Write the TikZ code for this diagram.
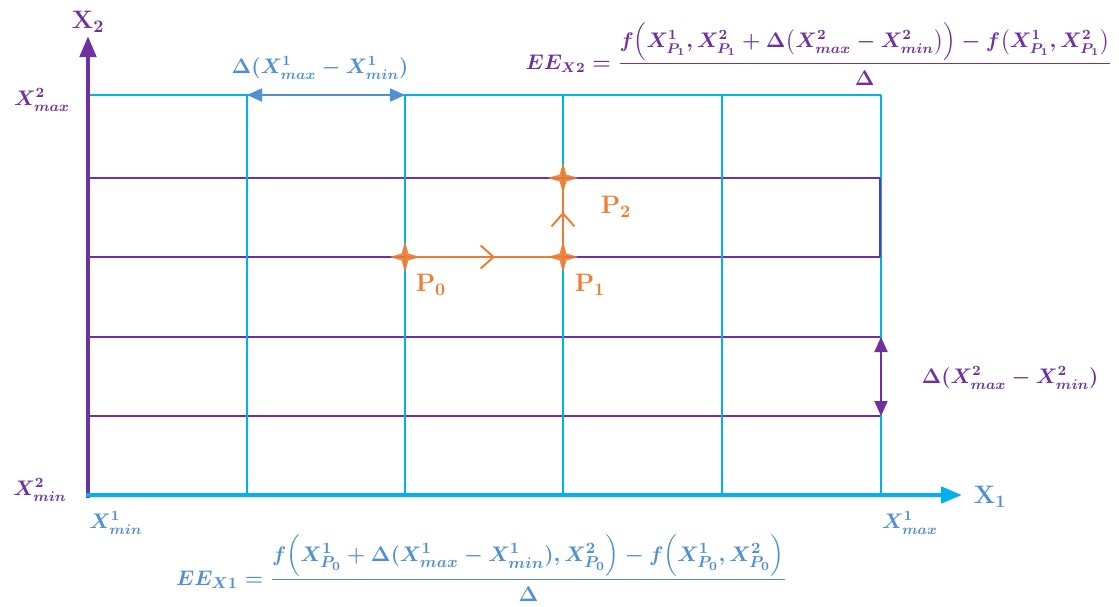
\documentclass[tikz,border=0pt]{standalone}
\usepackage{amsmath,amssymb}
\usetikzlibrary{arrows.meta, shapes.geometric, decorations.markings}
\definecolor{gridpurple}{HTML}{7030A0}
\definecolor{gridcyan}{HTML}{00B0F0}
\definecolor{labelblue}{HTML}{4F8FD3}
\definecolor{pathorange}{HTML}{ED7D31}

\begin{document}
\begin{tikzpicture}[
    x=0.02cm, y=-0.02cm,
    axis/.style={line width=2.6pt, -{Triangle[length=0.42cm, width=0.32cm]}},
    gridline/.style={line width=1.1pt},
    span/.style={line width=1.1pt, {Triangle[length=0.3cm, width=0.26cm]}-{Triangle[length=0.3cm, width=0.26cm]}},
    point/.style={star, star points=4, star point ratio=3.2, minimum size=0.62cm, inner sep=0pt, fill=pathorange, fill opacity=0.9},
    move/.style={pathorange, line width=1.1pt, postaction={decorate},
        decoration={markings, mark=at position 0.57 with {\arrow{Straight Barb[length=0.26cm, width=0.46cm]}}}},
    ptlabel/.style={text=pathorange, font=\Large},
    lbl/.style={font=\large\boldmath, inner sep=1pt}
]
    \useasboundingbox (0,0) rectangle (1119,606);

    % rows
    \draw[gridline, gridpurple] (88,178) rectangle (881,257);
    \draw[gridline, gridpurple] (88,337) rectangle (881,416);

    % columns
    \draw[gridline, gridcyan] (88,95) -- (881,95);
    \foreach \x in {247,405,563,722,881}
        \draw[gridline, gridcyan] (\x,95) -- (\x,495);
    \draw[gridline, gridpurple] (880,178) -- (880,257);

    % axes
    \coordinate (origin) at (88,495);
    \coordinate (ytip) at (88,36);
    \coordinate (xtip) at (962,495);
    \draw[axis, gridpurple] ([yshift=-0.05cm]origin) -- (ytip);
    \draw[axis, gridcyan] ([xshift=-0.05cm]origin) -- (xtip);

    \node[lbl, font=\Large, text=gridpurple] (x2) at (88,22) {$\mathbf{X_2}$};
    \node[lbl, font=\Large, text=labelblue] (x1) at (990,497) {$\mathbf{X_1}$};
    \node[lbl, text=gridpurple] (x2max) at (42,100) {$X^2_{max}$};
    \node[lbl, text=gridpurple] (x2min) at (40,490) {$X^2_{min}$};
    \node[lbl, text=labelblue] (x1min) at (116,523) {$X^1_{min}$};
    \node[lbl, text=labelblue] (x1max) at (910,523) {$X^1_{max}$};

    % step widths
    \coordinate (s1a) at (247,95);
    \coordinate (s1b) at (405,95);
    \draw[span, labelblue] (s1a) -- (s1b);
    \node[lbl, text=labelblue] (d1) at (320,68) {$\Delta(X^1_{max} - X^1_{min})$};

    \coordinate (s2a) at (881,337);
    \coordinate (s2b) at (881,416);
    \draw[span, gridpurple] (s2a) -- (s2b);
    \node[lbl, text=gridpurple] (d2) at (1010,378) {$\Delta(X^2_{max} - X^2_{min})$};

    % search path
    \node[point] (p0) at (405,257) {};
    \node[point] (p1) at (563,257) {};
    \node[point] (p2) at (563,178) {};
    \draw[move] (p0.center) -- (p1.center);
    \draw[move] (p1.center) -- (p2.center);
    \node[ptlabel] (p0lbl) at (431,285) {$\mathbf{P_0}$};
    \node[ptlabel] (p1lbl) at (590,285) {$\mathbf{P_1}$};
    \node[ptlabel] (p2lbl) at (616,207) {$\mathbf{P_2}$};

    % effects
    \node[lbl, text=gridpurple, anchor=east] (ee2) at (1114,54)
        {$EE_{X2} = \dfrac{f\Bigl(X^1_{P_1}, X^2_{P_1} + \Delta\bigl(X^2_{max} - X^2_{min}\bigr)\Bigr) - f\bigl(X^1_{P_1}, X^2_{P_1}\bigr)}{\Delta}$};
    \node[lbl, font=\fontsize{13.2}{16}\selectfont\boldmath, text=labelblue, anchor=west] (ee1) at (174,568)
        {$EE_{X1} = \dfrac{f\Bigl(X^1_{P_0} + \Delta(X^1_{max} - X^1_{min}), X^2_{P_0}\Bigr) - f\Bigl(X^1_{P_0}, X^2_{P_0}\Bigr)}{\Delta}$};
\end{tikzpicture}
\end{document}
